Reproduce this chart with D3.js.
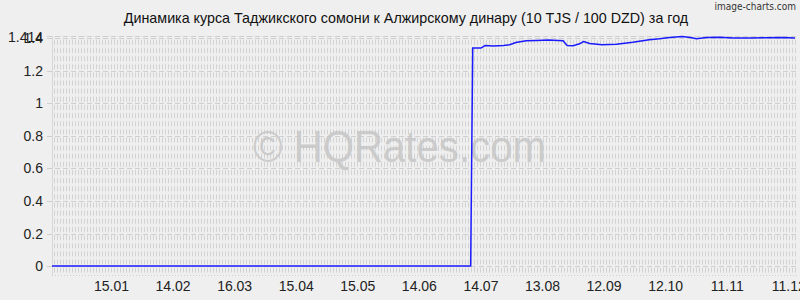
<!DOCTYPE html>
<html>
<head>
<meta charset="utf-8">
<script src="https://cdnjs.cloudflare.com/ajax/libs/d3/7.8.5/d3.min.js"></script>
<style>
  body { margin: 0; background: #efefef; }
  svg { display: block; font-family: "Liberation Sans", Arial, sans-serif; }
</style>
</head>
<body>
<div id="chart"></div>
<script>
// dates & rates (10 TJS / 100 DZD)
var dates = ["2022-12-17","2023-07-09","2023-07-10","2023-07-14","2023-07-16","2023-07-20","2023-07-25","2023-07-28",
  "2023-07-31","2023-08-05","2023-08-10","2023-08-16","2023-08-23","2023-08-25","2023-08-28","2023-08-31",
  "2023-09-02","2023-09-05","2023-09-11","2023-09-18","2023-09-26","2023-10-04","2023-10-09","2023-10-14",
  "2023-10-20","2023-10-24","2023-10-27","2023-11-01","2023-11-07","2023-11-14","2023-11-22","2023-11-30",
  "2023-12-08","2023-12-11","2023-12-14"];
var rates = [0, 0, 1.340, 1.340, 1.355, 1.352, 1.356, 1.360,
  1.374, 1.385, 1.387, 1.389, 1.385, 1.356, 1.354, 1.366,
  1.380, 1.368, 1.360, 1.364, 1.376, 1.391, 1.397, 1.405,
  1.411, 1.405, 1.397, 1.405, 1.407, 1.401, 1.401, 1.403,
  1.405, 1.403, 1.401];
var xTickDates = ["2023-01-15","2023-02-14","2023-03-16","2023-04-15","2023-05-15","2023-06-14",
  "2023-07-14","2023-08-13","2023-09-12","2023-10-12","2023-11-11","2023-12-11"];
var xTickLabels = ["15.01","14.02","16.03","15.04","15.05","14.06","14.07","13.08","12.09","12.10","11.11","11.12"];
var yTicks = [0, 0.2, 0.4, 0.6, 0.8, 1, 1.2, 1.4];
var yMax = 1.414;

var W = 800, H = 300;
var margin = {top: 36, right: 3, bottom: 25, left: 52};
var parse = d3.timeParse("%Y-%m-%d");
var data = dates.map(function(d, i) { return {date: parse(d), value: rates[i]}; });

var svg = d3.select("#chart").append("svg").attr("width", W).attr("height", H);

var x = d3.scaleTime()
  .domain([parse("2022-12-17"), parse("2023-12-15")])
  .range([margin.left, W - margin.right]);
var y = d3.scaleLinear()
  .domain([-0.055, yMax])
  .range([H - margin.bottom, margin.top]);

// grid pattern: short vertical dashes, broken every 0.05
var step = y(0) - y(0.05);
var defs = svg.append("defs");
var pat = defs.append("pattern")
  .attr("id", "grid")
  .attr("patternUnits", "userSpaceOnUse")
  .attr("width", 3).attr("height", step)
  .attr("y", y(0));
pat.append("rect").attr("x", 0).attr("y", 1.5).attr("width", 1).attr("height", step - 3).attr("fill", "#d2d2d2");

svg.append("rect")
  .attr("x", margin.left).attr("y", margin.top)
  .attr("width", W - margin.left - margin.right)
  .attr("height", H - margin.bottom - margin.top)
  .attr("fill", "url(#grid)");

// horizontal grid lines at ticks
svg.append("g").selectAll("line")
  .data(yTicks.concat([yMax]))
  .enter().append("line")
  .attr("x1", margin.left - 5).attr("x2", W - margin.right)
  .attr("y1", function(d) { return Math.round(y(d)) + 0.5; })
  .attr("y2", function(d) { return Math.round(y(d)) + 0.5; })
  .attr("stroke", "#cfcfcf")
  .attr("stroke-dasharray", "5,3");

// bottom border
svg.append("line")
  .attr("x1", margin.left).attr("x2", W - margin.right)
  .attr("y1", H - margin.bottom + 0.5).attr("y2", H - margin.bottom + 0.5)
  .attr("stroke", "#d0d0d0").attr("stroke-dasharray", "1,2");
svg.append("line")
  .attr("x1", margin.left + 0.5).attr("x2", margin.left + 0.5)
  .attr("y1", margin.top).attr("y2", H - margin.bottom)
  .attr("stroke", "#d8d8d8");

// watermark
svg.append("text")
  .attr("x", 253).attr("y", 162)
  .attr("textLength", 293)
  .attr("lengthAdjust", "spacingAndGlyphs")
  .style("font-size", "44px")
  .style("fill", "#c6c6c6")
  .style("fill-opacity", 0.85)
  .text("© HQRates.com");

// y labels
svg.append("g").selectAll("text")
  .data(yTicks)
  .enter().append("text")
  .attr("x", 43).attr("y", function(d) { return y(d) + 5; })
  .attr("text-anchor", "end")
  .style("font-size", "14px").style("fill", "#222")
  .text(function(d) { return d3.format("~g")(d); });
svg.append("text")
  .attr("x", 43).attr("y", y(yMax) + 6)
  .attr("text-anchor", "end")
  .style("font-size", "14px").style("fill", "#222")
  .text("1.414");

// x labels
svg.append("g").selectAll("text")
  .data(xTickDates)
  .enter().append("text")
  .attr("x", function(d) { return x(parse(d)); })
  .attr("y", 291)
  .attr("text-anchor", "middle")
  .style("font-size", "14px").style("fill", "#222")
  .text(function(d, i) { return xTickLabels[i]; });

// rate line
var line = d3.line()
  .x(function(d) { return x(d.date); })
  .y(function(d) { return y(d.value); });
svg.append("path")
  .datum(data)
  .attr("d", line)
  .attr("fill", "none")
  .attr("stroke", "#1a1aff")
  .attr("stroke-width", 1.5);

// title
svg.append("text")
  .attr("x", 406).attr("y", 23)
  .attr("text-anchor", "middle")
  .style("font-size", "14.3px").style("fill", "#111")
  .text("Динамика курса Таджикского сомони к Алжирскому динару (10 TJS / 100 DZD) за год");

svg.append("text")
  .attr("x", 796).attr("y", 10)
  .attr("text-anchor", "end")
  .style("font-family", "'DejaVu Sans Condensed', 'DejaVu Sans', sans-serif")
  .style("font-size", "10px").style("fill", "#333")
  .text("image-charts.com");
</script>
</body>
</html>
